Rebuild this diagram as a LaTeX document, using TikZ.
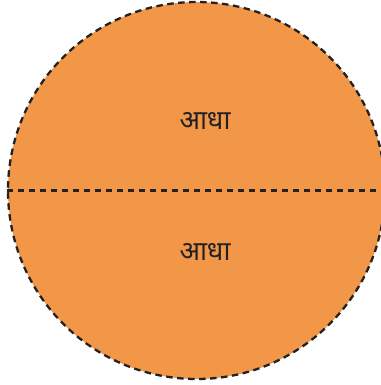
\documentclass[tikz,border=0pt]{standalone}
\usepackage{fontspec}
\newfontfamily\devfont[Script=Devanagari]{Noto Sans}
\usepackage{xcolor}
\usepackage{tikz}
\usetikzlibrary{positioning}
\definecolor{naranja}{RGB}{242,151,72}
\definecolor{tinta}{RGB}{34,34,34}

\begin{document}
\begin{tikzpicture}[
        x=1bp, y=-1bp,
        borde/.style={draw=tinta, line width=2.3bp, dash pattern=on 6.5bp off 4.5bp},
        disco/.style={circle, borde, fill=naranja, minimum size=377bp, inner sep=0pt},
        rotulo/.style={text=tinta, font=\devfont\fontsize{27}{32}\selectfont}
    ]
    \useasboundingbox (0,0) rectangle (381,385);
    \clip (0,0) rectangle (381,385);

    \node[disco] (disco) at (196.5,190.5) {};
    \draw[borde] (disco.west) -- (disco.east);

    \node[rotulo] (arriba) at (205,121) {आधा};
    \node[rotulo] (abajo) at (205,252) {आधा};
\end{tikzpicture}
\end{document}
